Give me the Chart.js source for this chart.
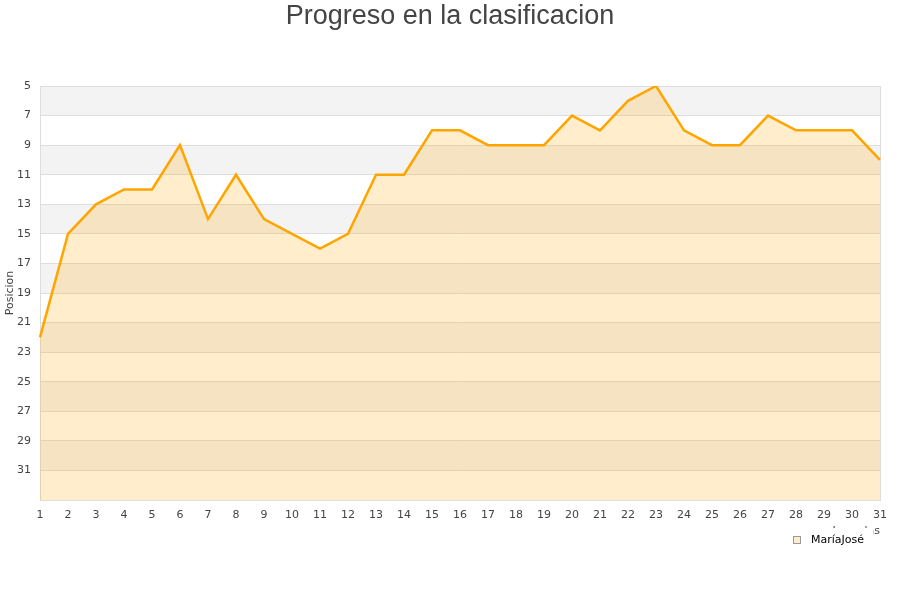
<!DOCTYPE html>
<html>
<head>
<meta charset="utf-8">
<script src="https://cdn.jsdelivr.net/npm/chart.js@4/dist/chart.umd.min.js"></script>
<style>
html,body{margin:0;padding:0;background:#fff;}
#wrap{width:900px;height:600px;}
</style>
</head>
<body>
<div id="wrap"><canvas id="c" width="900" height="600"></canvas></div>
<script>
const jornadas = [1,2,3,4,5,6,7,8,9,10,11,12,13,14,15,16,17,18,19,20,21,22,23,24,25,26,27,28,29,30,31];
const posicionMariaJose = [22,15,13,12,12,9,14,11,14,15,16,15,11,11,8,8,9,9,9,7,8,6,5,8,9,9,7,8,8,8,10];
const yTicks = [5,7,9,11,13,15,17,19,21,23,25,27,29,31];
const seriesName = 'MaríaJosé';
const yMin = 5, yMax = 33;

const bandsPlugin = {
  id: 'bands',
  beforeDraw(chart) {
    const {ctx, chartArea: a, scales: {y}} = chart;
    ctx.save();
    ctx.fillStyle = '#f3f3f3';
    for (let v = yMin; v < yMax; v += 4) {
      const y1 = y.getPixelForValue(v), y2 = y.getPixelForValue(Math.min(v + 2, yMax));
      ctx.fillRect(a.left, y1, a.right - a.left, y2 - y1);
    }
    ctx.restore();
  },
  beforeDatasetsDraw(chart) {
    const {ctx, chartArea: a} = chart;
    ctx.save();
    ctx.strokeStyle = '#dddddd';
    ctx.lineWidth = 1;
    ctx.strokeRect(a.left + 0.5, a.top + 0.5, a.right - a.left, a.bottom - a.top);
    ctx.restore();
  },
  afterDraw(chart) {
    const {ctx} = chart;
    ctx.save();
    ctx.fillStyle = '#ffffff';
    ctx.fillRect(780, 528, 93, 24);
    ctx.fillStyle = 'rgba(255,165,0,0.2)';
    ctx.fillRect(793.5, 536.5, 7, 7);
    ctx.strokeStyle = '#999999';
    ctx.lineWidth = 1;
    ctx.strokeRect(793.5, 536.5, 7, 7);
    ctx.fillStyle = '#000000';
    ctx.font = '11px "DejaVu Sans"';
    ctx.textBaseline = 'middle';
    ctx.textAlign = 'left';
    ctx.fillText(seriesName, 811, 540);
    ctx.restore();
  }
};

new Chart(document.getElementById('c'), {
  type: 'line',
  data: {
    labels: jornadas,
    datasets: [{
      label: seriesName,
      data: posicionMariaJose,
      borderColor: '#ffa500',
      backgroundColor: 'rgba(255,165,0,0.2)',
      borderWidth: 2.5,
      pointRadius: 0,
      pointHoverRadius: 0,
      tension: 0,
      fill: {value: yMax}
    }]
  },
  options: {
    responsive: false,
    animation: false,
    layout: {padding: {top: 0, left: 0, right: 0, bottom: 60}},
    plugins: {
      legend: {display: false},
      tooltip: {enabled: false},
      title: {
        display: true,
        text: 'Progreso en la clasificacion',
        color: '#444444',
        font: {family: '"Liberation Sans", Arial, sans-serif', size: 27, weight: 'normal'},
        padding: {top: 0, bottom: 53.6}
      }
    },
    scales: {
      x: {
        grid: {display: false, drawTicks: false},
        border: {display: true, color: '#dddddd'},
        ticks: {color: '#444444', font: {family: '"DejaVu Sans"', size: 11}, padding: 9, maxRotation: 0, autoSkip: false},
        title: {display: true, text: 'Jornadas', align: 'end', color: '#444444', font: {family: '"DejaVu Sans"', size: 11}, padding: {top: 0, bottom: 2}},
        afterFit(s) { s.height = 40; }
      },
      y: {
        reverse: true,
        min: yMin,
        max: yMax,
        afterBuildTicks(s) { s.ticks = yTicks.concat([yMax]).map(v => ({value: v})); },
        grid: {color: '#dddddd', drawTicks: false},
        border: {display: true, color: '#dddddd'},
        ticks: {
          color: '#444444', font: {family: '"DejaVu Sans"', size: 11}, padding: 9,
          callback: v => (yTicks.includes(v) ? String(v) : '')
        },
        title: {display: true, text: 'Posicion', color: '#444444', font: {family: '"DejaVu Sans"', size: 11}, padding: {top: 4, bottom: 0}},
        afterFit(s) { s.width = 40; }
      },
      spacer: {
        type: 'linear',
        position: 'right',
        display: true,
        grid: {display: false, drawTicks: false},
        border: {display: false},
        ticks: {display: false},
        afterFit(s) { s.width = 20; }
      }
    }
  },
  plugins: [bandsPlugin]
});
</script>
</body>
</html>
